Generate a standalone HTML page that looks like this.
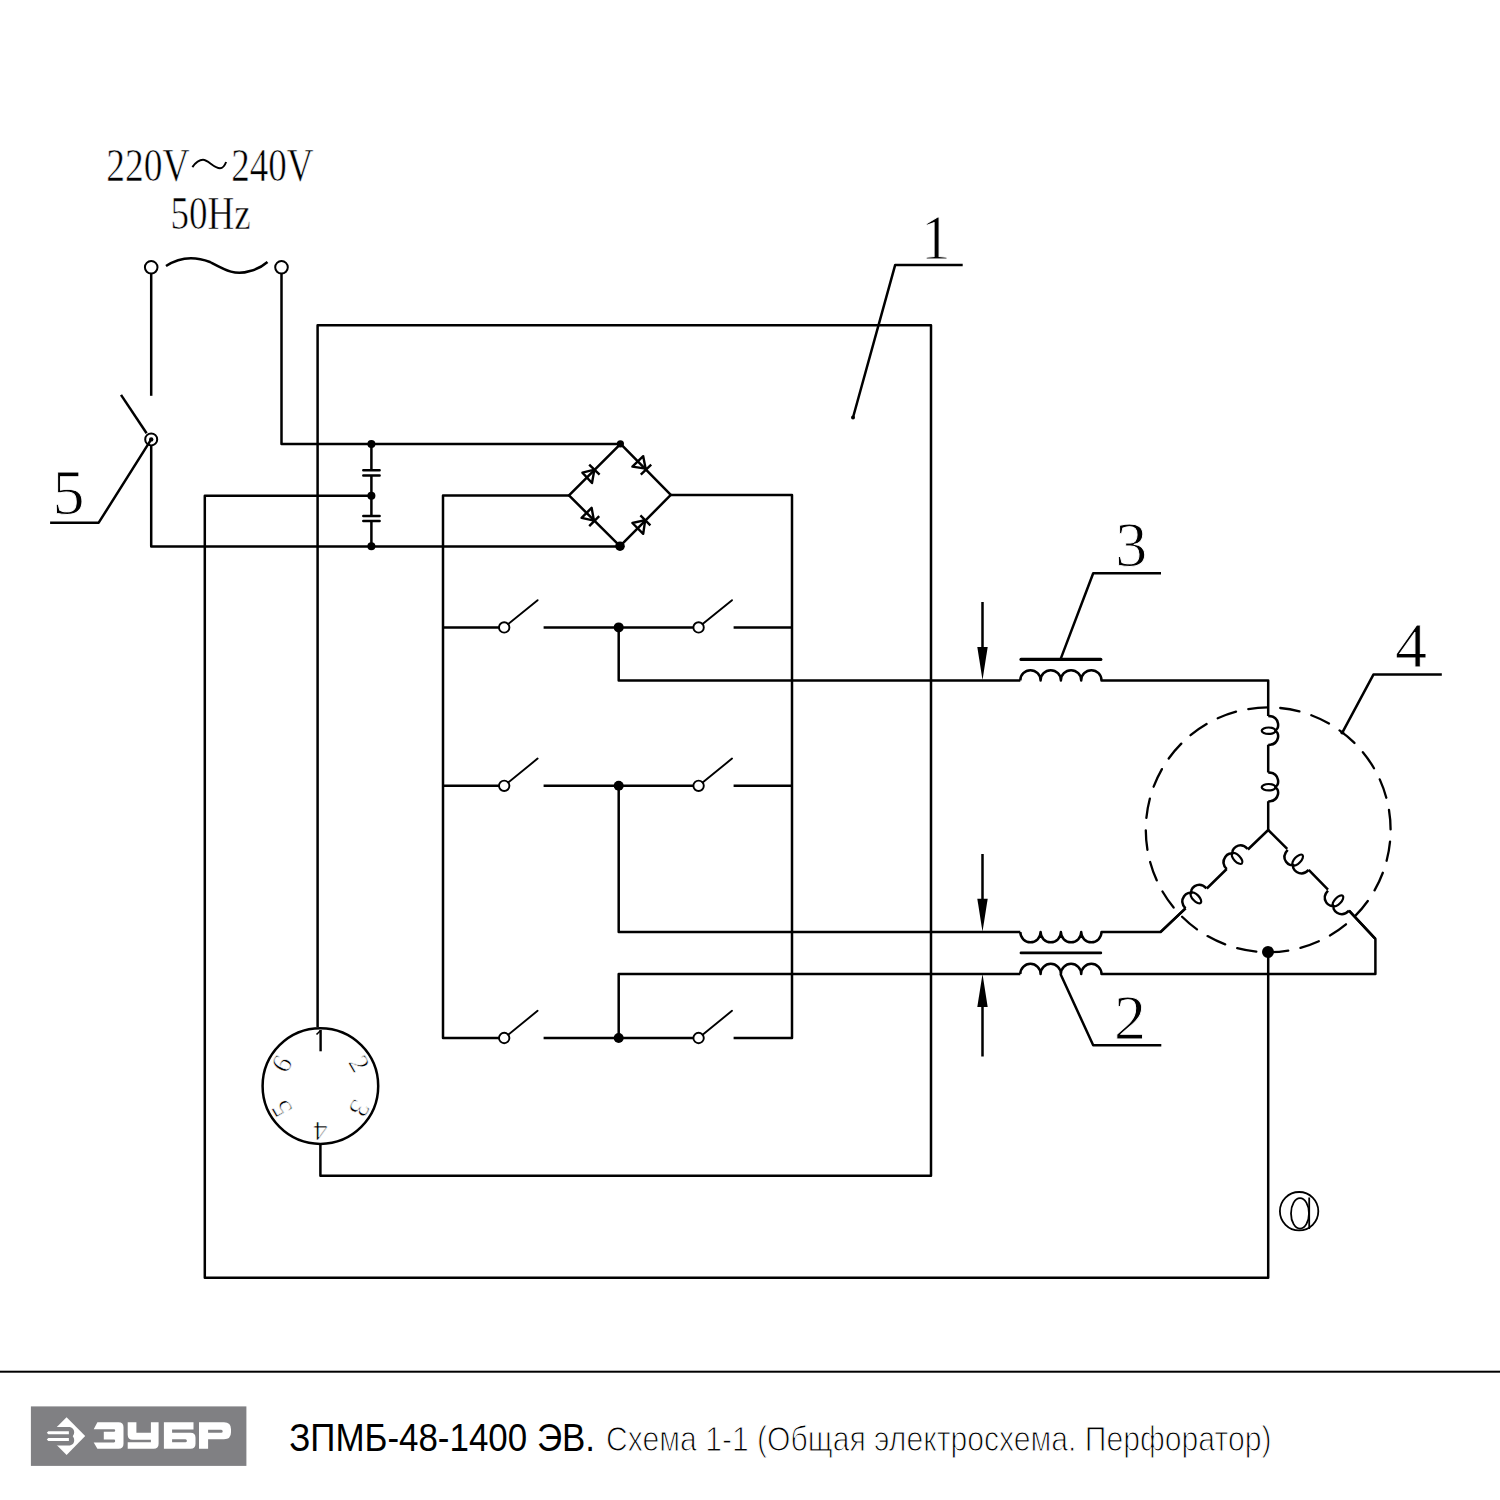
<!DOCTYPE html>
<html><head><meta charset="utf-8">
<style>
html,body{margin:0;padding:0;background:#fff;width:1500px;height:1500px;overflow:hidden}
svg{display:block}
.w{fill:none;stroke:#000;stroke-width:2.5;stroke-linecap:butt;stroke-linejoin:round}
.t{font-family:"Liberation Serif",serif;fill:#000}
.s{font-family:"Liberation Sans",sans-serif}
.e{stroke:#fff;stroke-width:0.9}
</style></head><body>
<svg width="1500" height="1500" viewBox="0 0 1500 1500">

<!-- ===== labels ===== -->
<text class="t e" style="stroke-width:0.6" x="106.3" y="180.6" font-size="46" textLength="83.3" lengthAdjust="spacingAndGlyphs">220V</text>
<path class="w" style="stroke-width:2" d="M192.4,167.1 C196,162 199,159.8 203,159.8 C208,159.8 214,168.2 220,168.2 C223,168.2 225,165 226.1,162"/>
<text class="t e" style="stroke-width:0.6" x="231.3" y="180.6" font-size="46" textLength="82.3" lengthAdjust="spacingAndGlyphs">240V</text>
<text class="t e" style="stroke-width:0.6" x="170.6" y="229.3" font-size="46" textLength="80.2" lengthAdjust="spacingAndGlyphs">50Hz</text>

<text class="t e" x="921" y="258.5" font-size="64" textLength="29.5" lengthAdjust="spacingAndGlyphs">1</text>
<text class="t e" x="52.5" y="514" font-size="64">5</text>
<text class="t e" x="1115.3" y="565.6" font-size="64">3</text>
<text class="t e" x="1395" y="666.5" font-size="64">4</text>
<text class="t e" x="1114" y="1038.5" font-size="64">2</text>

<!-- ===== mains & switch 5 ===== -->
<g class="w">
<circle cx="151.2" cy="267.3" r="6.3" style="stroke-width:2"/>
<circle cx="281.5" cy="267.3" r="6.3" style="stroke-width:2"/>
<path d="M166,266 C178,258 192,255 210,262 C225,270 235,276 250,271 C258,269 263,266 267.5,262"/>
<path d="M151.2,273.3 V395.8"/>
<path d="M121,394.9 L146.6,433.3"/>
<circle cx="151.2" cy="439.4" r="6" style="stroke-width:2"/>
<path d="M151.2,439.4 L98.7,522.7 H50.1"/>
<path d="M151.2,445.6 V546.4 H620"/>
<path d="M281.5,273.3 V444 H620.4"/>
</g>
<circle cx="151.2" cy="439.4" r="2.2" fill="#000"/>

<!-- ===== box 1 ===== -->
<g class="w">
<path d="M317.6,1027 V325.2 H931 V1175.8 H320.4 V1145"/>
<path d="M853,417.5 L895.2,264.9 H962.7"/>
</g>
<circle cx="853" cy="417.5" r="2" fill="#000"/>

<!-- ===== capacitors ===== -->
<g class="w">
<path d="M371.4,444 V470.3 M371.4,475.5 V515.9 M371.4,521.1 V546.4"/>

<path d="M363.3,470.3 H379.6 M363.3,475.5 H379.6 M363.3,515.9 H379.6 M363.3,521.1 H379.6" style="stroke-linecap:round"/>
</g>
<g fill="#000">
<circle cx="371.4" cy="444" r="4"/>
<circle cx="371.4" cy="495.7" r="4"/>
<circle cx="371.4" cy="546.3" r="4"/>
</g>

<!-- ===== bridge ===== -->
<g class="w">
<path d="M620.6,443.8 L569,495.4 L620,546.2 L670.8,494.9 Z"/>
<path d="M569,495.4 H443 V1038 H499"/>
<path d="M670.8,494.9 H792 V1038 H733.6"/>
</g>
<g fill="#000">
<circle cx="620.4" cy="443.8" r="3.6"/>
<circle cx="620" cy="546.2" r="4.8"/>
</g>
<g class="w" style="stroke-width:2.4">
<!-- upper-left: points up-right -->
<path d="M594.4,469.6 L582.4,472.6 L592,483 Z M589.2,464.6 L599.6,474.6"/>
<!-- upper-right: points down-right -->
<path d="M645.6,468.6 L632.4,466.6 L643.2,456.2 Z M640.8,474.6 L651.2,464.6"/>
<!-- lower-left: points down-right -->
<path d="M594,520.6 L581.6,517.8 L591.6,507.8 Z M589.2,526.2 L599.2,516.2"/>
<!-- lower-right: points up-right -->
<path d="M645.2,520.2 L632.4,523 L643.2,533.8 Z M640.4,515.4 L650.4,525.4"/>
</g>

<!-- ===== switches ===== -->
<g class="w">
<path d="M443,627.4 H499 M543.6,627.4 H693.4 M733.6,627.4 H792"/>
<path d="M618.7,627.4 V680.4 H1020.3"/>
<path d="M443,785.8 H499 M543.6,785.8 H693.4 M733.6,785.8 H792"/>
<path d="M618.7,785.8 V932.1 H1020.3"/>
<path d="M543.6,1038 H693.4"/>
<path d="M618.7,1038 V974 H1020.3"/>
</g>
<g class="w" style="stroke-width:1.9;stroke-linecap:round">
<path d="M508.2,624.1 L537.6,600.2"/>
<circle cx="504.2" cy="627.4" r="5.2"/>
<path d="M702.6,624.1 L732.0,600.2"/>
<circle cx="698.6" cy="627.4" r="5.2"/>
<path d="M508.2,782.5 L537.6,758.6"/>
<circle cx="504.2" cy="785.8" r="5.2"/>
<path d="M702.6,782.5 L732.0,758.6"/>
<circle cx="698.6" cy="785.8" r="5.2"/>
<path d="M508.2,1034.7 L537.6,1010.8"/>
<circle cx="504.2" cy="1038" r="5.2"/>
<path d="M702.6,1034.7 L732.0,1010.8"/>
<circle cx="698.6" cy="1038" r="5.2"/>
</g>
<g fill="#000">
<circle cx="618.7" cy="627.4" r="5"/>
<circle cx="618.7" cy="785.8" r="5"/>
<circle cx="618.7" cy="1038" r="5"/>
</g>

<!-- ===== transformers ===== -->
<g class="w">
<!-- top coil humps up -->
<path d="M1020.3,680.4 a10.15,10.15 0 0 1 20.3,0 a10.15,10.15 0 0 1 20.3,0 a10.15,10.15 0 0 1 20.3,0 a10.15,10.15 0 0 1 20.3,0 H1268.2 V715.9"/>
<path d="M1021,659.4 H1100.8" style="stroke-width:3.2;stroke-linecap:round"/>
<path d="M1060.5,659.4 L1093.2,573.2 H1161"/>
<!-- middle coil humps down -->
<path d="M1020.3,932.1 a10.15,10.15 0 0 0 20.3,0 a10.15,10.15 0 0 0 20.3,0 a10.15,10.15 0 0 0 20.3,0 a10.15,10.15 0 0 0 20.3,0 H1160.6 L1185.5,908.4"/>
<path d="M1021,952.9 H1100.8" style="stroke-width:2.8;stroke-linecap:round"/>
<!-- bottom coil humps up -->
<path d="M1020.3,974 a10.15,10.15 0 0 1 20.3,0 a10.15,10.15 0 0 1 20.3,0 a10.15,10.15 0 0 1 20.3,0 a10.15,10.15 0 0 1 20.3,0 H1375.4 V938.8 L1349,910.7"/>
<path d="M1060.5,974 L1093.2,1045.3 H1161.3"/>
<!-- arrows -->
<path d="M982.5,602 V650 M982.5,854 V900 M982.5,1056.5 V1005"/>
</g>
<g fill="#000">
<path d="M977.3,647 L987.7,647 L982.5,680 Z"/>
<path d="M977.3,898.8 L987.7,898.8 L982.5,931.8 Z"/>
<path d="M977.3,1007 L987.7,1007 L982.5,974 Z"/>
</g>

<!-- ===== motor ===== -->
<circle cx="1268.2" cy="829.8" r="122.4" fill="none" stroke="#000" stroke-width="2.3" stroke-linecap="round" stroke-dasharray="19.49 12.554" stroke-dashoffset="-11.83"/>
<g class="w">
<!-- top branch -->
<path d="M1268.2,830 V801.3 M1268.2,772.4 V744.8"/>
<path d="M0,0 C12,0 12,14.5 6,14.8 M6,14.8 C12,15 12,29 0,29" transform="translate(1268.2,715.9)"/>
<path d="M0,0 C12,0 12,14.5 6,14.8 M6,14.8 C12,15 12,29 0,29" transform="translate(1268.2,772.4)"/>
<!-- lower-left -->
<path d="M1268.2,830 L1247.9,849.5 M1226.7,869 L1206.8,888.5 M1185.5,908.4 L1160.6,931.8"/>
<path d="M0,0 C12,0 12,14.5 6,14.8 M6,14.8 C12,15 12,29 0,29" transform="translate(1185.5,908.4) rotate(-133.6)"/>
<path d="M0,0 C12,0 12,14.5 6,14.8 M6,14.8 C12,15 12,29 0,29" transform="translate(1226.7,869) rotate(-133.6)"/>
<!-- lower-right -->
<path d="M1268.2,830 L1287.2,848.9 M1308.7,869.9 L1328,889.7 M1349,910.7 L1375.4,938.8"/>
<path d="M0,0 C12,0 12,14.5 6,14.8 M6,14.8 C12,15 12,29 0,29" transform="translate(1349,910.7) rotate(133.6)"/>
<path d="M0,0 C12,0 12,14.5 6,14.8 M6,14.8 C12,15 12,29 0,29" transform="translate(1308.7,869.9) rotate(133.6)"/>
<!-- bottom -->
<path d="M1268.2,952 V1277.8 H204.8 V495.7 H371.4"/>
<path d="M1342.3,732.6 L1373.4,674.6 H1441.8"/>
</g>
<g fill="none" stroke="#000" stroke-width="2.2">
<ellipse cx="0.5" cy="14.8" rx="7" ry="3.2" transform="translate(1268.2,715.9)"/>
<ellipse cx="0.5" cy="14.8" rx="7" ry="3.2" transform="translate(1268.2,772.4)"/>
<ellipse cx="0.5" cy="14.8" rx="7" ry="3.2" transform="translate(1185.5,908.4) rotate(-133.6)"/>
<ellipse cx="0.5" cy="14.8" rx="7" ry="3.2" transform="translate(1226.7,869) rotate(-133.6)"/>
<ellipse cx="0.5" cy="14.8" rx="7" ry="3.2" transform="translate(1349,910.7) rotate(133.6)"/>
<ellipse cx="0.5" cy="14.8" rx="7" ry="3.2" transform="translate(1308.7,869.9) rotate(133.6)"/>
</g>
<circle cx="1268" cy="952" r="6" fill="#000"/>
<circle cx="1342.3" cy="732.6" r="2" fill="#000"/>

<!-- ===== connector ===== -->
<circle cx="320.4" cy="1086.1" r="57.8" fill="none" stroke="#000" stroke-width="2.5"/>
<path d="M320.6,1030 V1051.3" stroke="#000" stroke-width="2.4" fill="none"/>
<path d="M320.6,1030.5 L316.5,1034.5" stroke="#000" stroke-width="1.6" fill="none"/>
<g class="t e" font-size="28" style="stroke-width:0.7">
<text x="320.4" y="1050.6" text-anchor="middle" transform="rotate(60 320.4 1086.1)">2</text>
<text x="320.4" y="1050.6" text-anchor="middle" transform="rotate(120 320.4 1086.1)">3</text>
<text x="320.4" y="1050.6" text-anchor="middle" transform="rotate(180 320.4 1086.1)">4</text>
<text x="320.4" y="1050.6" text-anchor="middle" transform="rotate(240 320.4 1086.1)">5</text>
<text x="320.4" y="1050.6" text-anchor="middle" transform="rotate(300 320.4 1086.1)">6</text>
</g>

<!-- ===== @ ===== -->
<g fill="none" stroke="#000" stroke-width="1.8">
<circle cx="1299.1" cy="1211.2" r="19.2"/>
<ellipse cx="1300" cy="1213.4" rx="9" ry="15.2"/>
<path d="M1309.2,1197.5 V1229"/>
</g>

<!-- ===== footer ===== -->
<rect x="0" y="1370.7" width="1500" height="2" fill="#000"/>
<rect x="30.9" y="1406.4" width="215.5" height="59.5" fill="#808083"/>
<g fill="#fff">
<path d="M66.6,1417.2 L85.2,1436.1 L66.6,1455 L47.7,1436.1 Z"/>
</g>
<path fill="#808083" d="M40,1427.1 H68.5 C72.5,1427.1 74.2,1429.8 74.2,1432.3 C74.2,1434.3 73.2,1435.6 72.7,1436.2 C73.2,1436.8 74.2,1438.2 74.2,1440.2 C74.2,1443 72.5,1445.5 68.5,1445.5 H40 Z"/>
<g fill="#fff">
<path d="M48.3,1431.3 H68.9 V1434.2 H48.3 L46.8,1432.75 Z"/>
<path d="M48.3,1438 H68.9 V1441 H48.3 L46.8,1439.5 Z"/>
</g>
<g fill="#fff">
<!-- З -->
<path d="M97.4,1422.2 H118.5 Q123.5,1422.2 123.5,1427.2 V1443.8 Q123.5,1448.8 118.5,1448.8 H97.4 L93.7,1442.4 H114 Q115.2,1442.4 115.2,1441 Q115.2,1439.6 114,1439.6 H103.8 V1431.8 H114 Q115.2,1431.8 115.2,1430.5 Q115.2,1429.2 114,1429.2 H93.7 Z"/>
<!-- У -->
<path d="M127.7,1422.2 H136.4 V1432.8 H150.9 V1422.2 H158.6 V1443.8 Q158.6,1448.8 153.6,1448.8 H127.7 V1442.2 H150.9 V1439.7 H132.7 Q127.7,1439.7 127.7,1434.7 Z"/>
<!-- Б -->
<path fill-rule="evenodd" d="M163.9,1422.2 H193.5 V1429.6 H172.1 V1432.8 H190.5 Q195.5,1432.8 195.5,1437.8 V1443.8 Q195.5,1448.8 190.5,1448.8 H163.9 Z M172.1,1439.2 V1442.2 H185.4 Q186.9,1442.2 186.9,1440.7 Q186.9,1439.2 185.4,1439.2 Z"/>
<!-- Р -->
<path fill-rule="evenodd" d="M199,1422.2 H224 Q231,1422.2 231,1429.2 V1432.2 Q231,1439.2 224,1439.2 H208.1 V1448.8 H199 Z M208.1,1429.8 V1432.8 H221.2 Q222.7,1432.8 222.7,1431.3 Q222.7,1429.8 221.2,1429.8 Z"/>
</g>
<text class="s" x="289.2" y="1450.6" font-size="38.5" fill="#000" textLength="305.8" lengthAdjust="spacingAndGlyphs">ЗПМБ-48-1400 ЭВ.</text>
<text class="s e" x="606" y="1450.7" font-size="35" fill="#000" style="stroke-width:1.1" textLength="665.5" lengthAdjust="spacingAndGlyphs">Схема 1-1 (Общая электросхема. Перфоратор)</text>
</svg>
</body></html>
